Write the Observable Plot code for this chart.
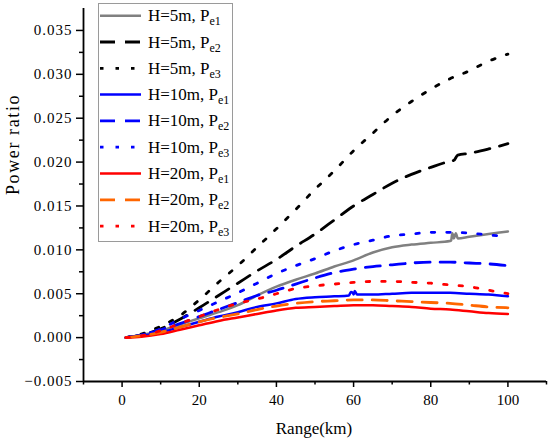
<!DOCTYPE html>
<html><head><meta charset="utf-8">
<script src="https://cdn.jsdelivr.net/npm/d3@7"></script>
<script src="https://cdn.jsdelivr.net/npm/@observablehq/plot@0.6"></script>
<style>body{margin:0;background:#fff}</style>
</head><body><div id="chart"></div>
<script>
// ---- data ----
const rangeKm = [1,5,10,15,20,25,30,35,40,45,50,55,60,65,70,75,80,85,90,95,100];

const h5Pe1  = [0,0.0003,0.0008,0.0015,0.0022,0.0029,0.0037,0.0048,0.0058,0.0066,0.0073,0.0081,0.0088,0.0097,0.0103,0.0106,0.0108,0.0110,0.0115,0.0118,0.0121];
const h5Pe2  = [0,0.0003,0.0010,0.0021,0.0034,0.0048,0.0062,0.0076,0.0089,0.0104,0.0118,0.0134,0.0150,0.0163,0.0176,0.0186,0.0194,0.0201,0.0210,0.0215,0.0221];
const h5Pe3  = [0,0.0004,0.0013,0.0025,0.0043,0.0063,0.0082,0.0103,0.0124,0.0146,0.0169,0.0190,0.0213,0.0233,0.0253,0.0269,0.0283,0.0295,0.0304,0.0315,0.0323];
const h10Pe1 = [0,0.0002,0.0006,0.0012,0.0018,0.0024,0.0029,0.0035,0.0039,0.0044,0.0046,0.0047,0.0049,0.0049,0.0050,0.0051,0.0051,0.0051,0.0050,0.0049,0.0047];
const h10Pe2 = [0,0.0003,0.0009,0.0016,0.0024,0.0032,0.0040,0.0048,0.0054,0.0061,0.0068,0.0074,0.0078,0.0081,0.0083,0.0085,0.0086,0.0086,0.0085,0.0084,0.0082];
const h10Pe3 = [0,0.0003,0.0010,0.0021,0.0031,0.0041,0.0051,0.0062,0.0073,0.0082,0.0090,0.0099,0.0106,0.0111,0.0116,0.0118,0.0120,0.0120,0.0119,0.0117,0.0115];
const h20Pe1 = [0,0.0001,0.0004,0.0009,0.0014,0.0019,0.0023,0.0027,0.0031,0.0034,0.0035,0.0036,0.0037,0.0037,0.0036,0.0035,0.0033,0.0032,0.0030,0.0028,0.0027];
const h20Pe2 = [0,0.0002,0.0006,0.0012,0.0018,0.0023,0.0027,0.0032,0.0036,0.0039,0.0041,0.0042,0.0043,0.0043,0.0042,0.0041,0.0040,0.0039,0.0037,0.0035,0.0034];
const h20Pe3 = [0,0.0002,0.0008,0.0016,0.0024,0.0032,0.0039,0.0044,0.0050,0.0056,0.0059,0.0061,0.0063,0.0064,0.0064,0.0063,0.0062,0.0060,0.0058,0.0054,0.0050];

// local glitches visible in the reference
const h5Pe1GlitchKm  = [85.3,85.6,86.0,86.5,87.0];
const h5Pe1Glitch    = [0.0111,0.0119,0.0113,0.0119,0.0113];
const h5Pe2GlitchKm  = [86,87];
const h5Pe2Glitch    = [0.0202,0.0208];
const h10Pe1GlitchKm = [58.8,59.3,59.8,60.3,60.9];
const h10Pe1Glitch   = [0.0048,0.0052,0.0051,0.0053,0.0049];

const heights = ["5m","5m","5m","10m","10m","10m","20m","20m","20m"];
const subs    = ["e1","e2","e3","e1","e2","e3","e1","e2","e3"];
const colors  = ["#808080","#000000","#000000","#0000ff","#0000ff","#0000ff","#ff0000","#ff6600","#ff0000"];
const dashes  = [null,"15,10","3.5,12",null,"15,10","3.5,12",null,"15,10","3.5,12"];

const xMajor = [0,20,40,60,80,100];
const xMinor = [-10,10,30,50,70,90,110];
const yMajor = [-0.005,0,0.005,0.010,0.015,0.020,0.025,0.030,0.035];
const yMinor = [-0.0025,0.0025,0.0075,0.0125,0.0175,0.0225,0.0275,0.0325];

// ---- build tables ----
function rows(base, gKm = [], g = []) {
  const r = rangeKm.map((km, i) => ({km, v: base[i]}));
  gKm.forEach((km, i) => r.push({km, v: g[i]}));
  return r.sort((a, b) => a.km - b.km);
}
const tables = [
  rows(h5Pe1, h5Pe1GlitchKm, h5Pe1Glitch),
  rows(h5Pe2, h5Pe2GlitchKm, h5Pe2Glitch),
  rows(h5Pe3),
  rows(h10Pe1, h10Pe1GlitchKm, h10Pe1Glitch),
  rows(h10Pe2),
  rows(h10Pe3),
  rows(h20Pe1),
  rows(h20Pe2),
  rows(h20Pe3)
];

const font = "'Liberation Serif', 'DejaVu Serif', 'Times New Roman', serif";

const chart = Plot.plot({
  width: 550, height: 438,
  marginLeft: 83, marginRight: 4, marginTop: 8, marginBottom: 57,
  x: {domain: [-10, 110]},
  y: {domain: [-0.005, 0.0375]},
  style: {fontFamily: font, fontSize: "15px", color: "black", background: "white"},
  marks: [
    Plot.axisX(xMajor, {anchor: "bottom", tickSize: 6, tickPadding: 7, fontSize: 15, fontFamily: font, label: null, strokeWidth: 1.5}),
    Plot.axisX(xMinor, {anchor: "bottom", tickSize: 3.5, tickFormat: () => "", label: null, strokeWidth: 1.5}),
    Plot.axisY(yMajor, {anchor: "left", tickSize: 7, tickPadding: 4, tickFormat: d3.format(".3f"), fontSize: 15, fontFamily: font, label: null, strokeWidth: 1.5}),
    Plot.axisY(yMinor, {anchor: "left", tickSize: 4, tickFormat: () => "", label: null, strokeWidth: 1.5}),
    Plot.ruleX([-10], {strokeWidth: 1.8}),
    Plot.ruleY([-0.005], {strokeWidth: 1.8}),
    ...tables.map((t, i) => Plot.line(t, {
      x: "km", y: "v", stroke: colors[i], strokeWidth: dashes[i] ? 2.8 : 2.5,
      strokeDasharray: dashes[i] ?? undefined, curve: "monotone-x"
    })),
    Plot.text(["Power ratio"], {frameAnchor: "left", rotate: -90, dx: -70, fontSize: 18, fontFamily: font, lineAnchor: "middle"}),
    Plot.text(["Range(km)"], {frameAnchor: "bottom", dy: 47, dx: -1, fontSize: 17, fontFamily: font, lineAnchor: "middle"})
  ]
});

// ---- typographic tweaks to mimic the wide CJK serif of the original ----
const svg = d3.select(chart);
svg.selectAll('g[aria-label="y-axis tick label"] text').style("letter-spacing", "1px");
svg.selectAll("text").filter(function () { return this.textContent === "Power ratio"; })
  .style("letter-spacing", "1.6px");

// ---- legend (inside the plot, top-left) ----
const lg = svg.append("g").attr("font-family", font).attr("text-anchor", "start");
lg.append("rect").attr("x", 98.5).attr("y", 3.5).attr("width", 134).attr("height", 238)
  .attr("fill", "white").attr("stroke", "#9a9a9a").attr("stroke-width", 1);
heights.forEach((h, i) => {
  const cy = 15.7 + 26.3 * i;
  const ln = lg.append("line").attr("x1", 100).attr("x2", 141).attr("y1", cy).attr("y2", cy)
    .attr("stroke", colors[i]).attr("stroke-width", dashes[i] ? 2.8 : 2.5);
  if (dashes[i]) ln.attr("stroke-dasharray", dashes[i]);
  const t = lg.append("text").attr("x", 148).attr("y", cy + 5.5).attr("font-size", 17)
    .attr("fill", "black").attr("text-anchor", "start");
  t.append("tspan").text(`H=${h}, P`);
  t.append("tspan").attr("font-size", 12).attr("dy", 4).text(subs[i]);
});

document.getElementById("chart").appendChild(chart);
</script>
</body></html>
